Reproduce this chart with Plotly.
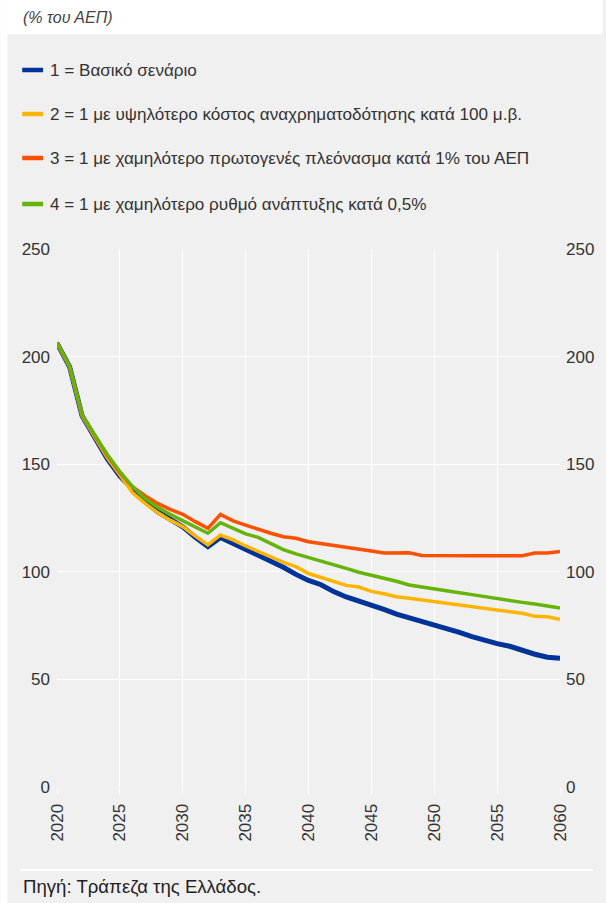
import plotly.graph_objects as go

years = list(range(2020, 2061))

baseline = [206.2, 195.3, 172.4, 162.5, 152.5, 144.5, 138.3, 132.6, 127.9, 124.4,
            120.9, 116.0, 111.7, 116.0, 113.3, 110.4, 107.8, 105.0, 102.1, 98.8,
            96.0, 94.0, 90.8, 88.3, 86.5, 84.5, 82.5, 80.3, 78.6, 76.8,
            75.7, 73.7, 71.9, 69.9, 68.0, 66.6, 65.4, 63.3, 61.7, 60.3, 59.8]

higher_cost = [206.2, 195.3, 172.4, 162.8, 153.0, 145.0, 136.8, 131.8, 127.5, 124.0,
               121.0, 116.6, 112.5, 117.1, 114.8, 112.0, 109.7, 107.0, 104.4, 102.4,
               99.2, 97.4, 95.6, 93.7, 92.9, 90.9, 89.8, 88.4, 87.7, 86.9,
               86.1, 85.3, 84.6, 83.8, 83.0, 82.2, 81.5, 80.7, 79.3, 79.1, 77.9]

lower_surplus = [206.5, 195.5, 172.8, 163.5, 154.0, 146.0, 139.6, 135.4, 131.8, 129.0,
                 126.7, 123.3, 120.2, 126.7, 123.7, 121.7, 119.7, 117.9, 116.3, 115.6,
                 114.0, 113.2, 112.3, 111.4, 110.4, 109.7, 108.7, 108.7, 108.8, 107.6,
                 107.5, 107.5, 107.5, 107.5, 107.5, 107.5, 107.5, 107.5, 108.7, 108.7, 109.4]

lower_growth = [206.5, 195.5, 172.8, 163.8, 154.5, 146.5, 139.6, 134.1, 130.0, 126.7,
                123.7, 120.7, 117.9, 122.8, 120.2, 117.6, 116.0, 113.2, 110.3, 108.3,
                106.7, 105.0, 103.3, 101.6, 99.8, 98.5, 96.8, 95.6, 93.9, 93.1,
                92.0, 91.1, 90.3, 89.4, 88.4, 87.5, 86.7, 85.8, 85.0, 84.1, 83.2]

series_names = [
    "1 = Βασικό σενάριο",
    "2 = 1 με υψηλότερο κόστος αναχρηματοδότησης κατά 100 μ.β.",
    "3 = 1 με χαμηλότερο πρωτογενές πλεόνασμα κατά 1% του ΑΕΠ",
    "4 = 1 με χαμηλότερο ρυθμό ανάπτυξης κατά 0,5%",
]
series_values = [baseline, higher_cost, lower_surplus, lower_growth]
colors = ["#003399", "#ffb400", "#ff5000", "#66b30a"]
widths = [5, 3.5, 3.5, 3.5]

x_ticks = list(range(2020, 2061, 5))
y_ticks = [0, 50, 100, 150, 200, 250]

unit_label = "(% του ΑΕΠ)"
source_label = "Πηγή: Τράπεζα της Ελλάδος."

W, H = 606, 903
L, R, T, B = 57, 563, 249, 787
FONT = "Liberation Sans"
BG = "#f0f0f0"


def px(x):
    return (x - L) / (R - L)


def py(y):
    return (B - y) / (B - T)


fig = go.Figure()
for name, vals, col, w in zip(series_names, series_values, colors, widths):
    fig.add_trace(go.Scatter(x=years, y=vals, mode="lines", name=name,
                             line=dict(color=col, width=w), showlegend=False))

# invisible trace to activate right axis
fig.add_trace(go.Scatter(x=years, y=baseline, yaxis="y2", mode="lines",
                         line=dict(width=0, color="rgba(0,0,0,0)"),
                         hoverinfo="skip", showlegend=False))

shapes = [
    dict(type="rect", xref="paper", yref="paper", x0=px(0), x1=px(W), y0=py(0), y1=py(34),
         fillcolor="white", line=dict(width=0), layer="below"),
    dict(type="rect", xref="paper", yref="paper", x0=px(0), x1=px(7), y0=py(0), y1=py(H),
         fillcolor="white", line=dict(width=0), layer="below"),
    dict(type="line", xref="paper", yref="paper", x0=px(20), x1=px(596), y0=py(870), y1=py(870),
         line=dict(color="white", width=2)),
]

annotations = [
    dict(text=unit_label, xref="paper", yref="paper", x=px(21), y=py(18), xanchor="left",
         yanchor="middle", showarrow=False,
         font=dict(family=FONT, size=16, color="#444", style="italic")),
    dict(text=source_label, xref="paper", yref="paper", x=px(21), y=py(886), xanchor="left",
         yanchor="middle", showarrow=False, font=dict(family=FONT, size=18.6, color="#222")),
]

legend_y = [70, 114, 158, 204]
for name, col, ly in zip(series_names, colors, legend_y):
    shapes.append(dict(type="line", xref="paper", yref="paper", x0=px(22), x1=px(43),
                       y0=py(ly), y1=py(ly), line=dict(color=col, width=4.5)))
    annotations.append(dict(text=name, xref="paper", yref="paper", x=px(48), y=py(ly),
                            xanchor="left", yanchor="middle", showarrow=False,
                            font=dict(family=FONT, size=17.1, color="#333")))

fig.update_layout(
    width=W, height=H,
    margin=dict(l=L, r=W - R, t=T, b=H - B, pad=0),
    paper_bgcolor=BG, plot_bgcolor=BG,
    font=dict(family=FONT, size=16, color="#333"),
    shapes=shapes, annotations=annotations,
    xaxis=dict(range=[2020, 2060], tickvals=x_ticks, ticktext=[str(v) for v in x_ticks],
               tickangle=-90, showgrid=True, gridcolor="white", gridwidth=1.3,
               zeroline=False, showline=False, ticks="outside", ticklen=6,
               tickcolor="white", tickwidth=1.3, ticklabelstandoff=3,
               tickfont=dict(family=FONT, size=17, color="#333")),
    yaxis=dict(range=[0, 250], tickvals=y_ticks, showgrid=True, gridcolor="white",
               gridwidth=1.3, zeroline=False, showline=False, ticks="",
               ticklabelstandoff=6, tickfont=dict(family=FONT, size=17, color="#333")),
    yaxis2=dict(range=[0, 250], tickvals=y_ticks, overlaying="y", side="right",
                showgrid=False, zeroline=False, showline=False, ticks="",
                ticklabelstandoff=5, tickfont=dict(family=FONT, size=17, color="#333")),
)

fig.write_html("out.html", config={"displayModeBar": False},
               post_script="document.body.style.margin='0';")
